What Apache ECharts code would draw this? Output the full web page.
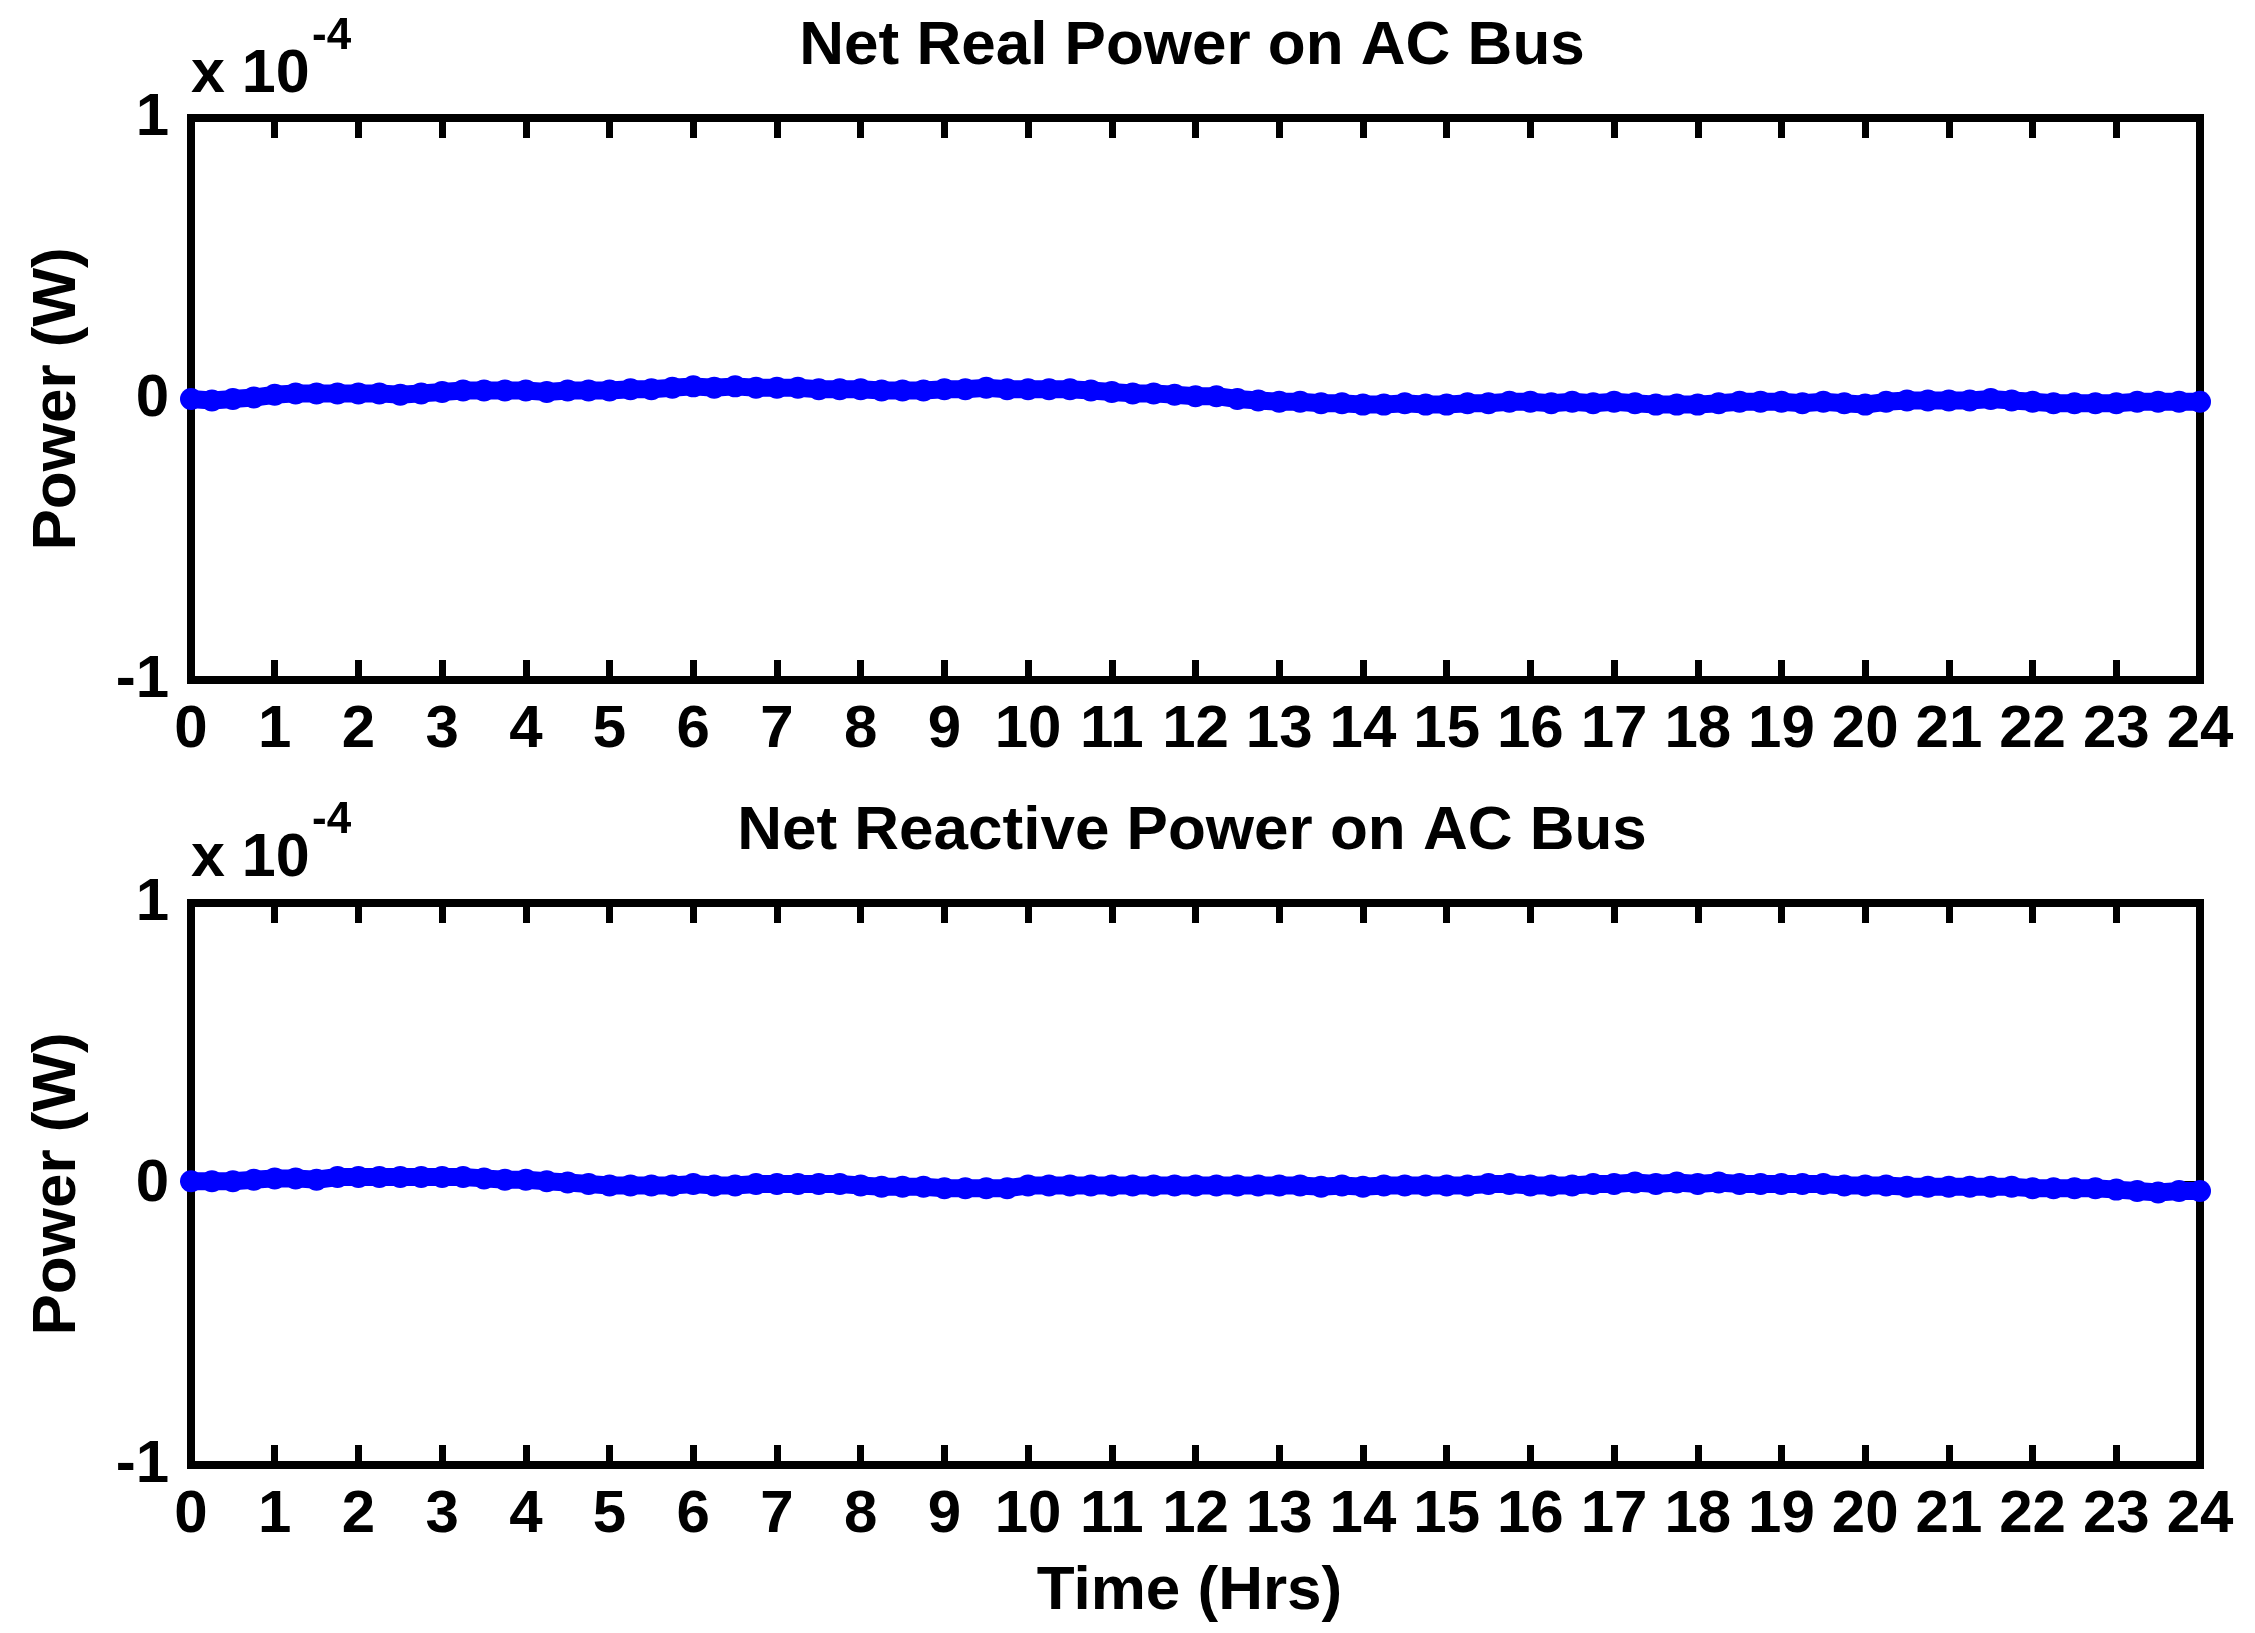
<!DOCTYPE html>
<html>
<head>
<meta charset="utf-8">
<script src="https://cdn.jsdelivr.net/npm/echarts@6/dist/echarts.min.js"></script>
<style>
html,body{margin:0;padding:0;background:#fff;}
#c{width:2255px;height:1633px;}
</style>
</head>
<body>
<div id="c"></div>
<script>
// Time in hours (0 to 24, every 0.25 h)
const hours = [0,0.25,0.5,0.75,1,1.25,1.5,1.75,2,2.25,2.5,2.75,3,3.25,3.5,3.75,4,4.25,4.5,4.75,
5,5.25,5.5,5.75,6,6.25,6.5,6.75,7,7.25,7.5,7.75,8,8.25,8.5,8.75,9,9.25,9.5,9.75,
10,10.25,10.5,10.75,11,11.25,11.5,11.75,12,12.25,12.5,12.75,13,13.25,13.5,13.75,14,14.25,14.5,14.75,
15,15.25,15.5,15.75,16,16.25,16.5,16.75,17,17.25,17.5,17.75,18,18.25,18.5,18.75,19,19.25,19.5,19.75,
20,20.25,20.5,20.75,21,21.25,21.5,21.75,22,22.25,22.5,22.75,23,23.25,23.5,23.75,24];

// Net real power (x 1e-4 W)
const realPower = [0.00,-0.005,0.0,0.005, 0.015,0.02,0.02,0.02,0.02,0.02, 0.015,0.02,
0.025,0.03,0.03,0.03,0.03,0.025,0.03,0.03,
0.03,0.035,0.035,0.04, 0.045,0.04,0.045,0.04, 0.04,0.04,0.035,0.035, 0.035,0.03,0.03,0.03,
0.035,0.035,0.04,0.035, 0.035,0.035,0.035,0.03, 0.025,0.02,0.02,0.015, 0.01,0.01,0.0,-0.005,
-0.01,-0.01,-0.015,-0.015, -0.02,-0.02,-0.015,-0.02, -0.02,-0.015,-0.015,-0.01, -0.01,-0.015,-0.01,-0.015,
-0.01,-0.015,-0.02,-0.02, -0.02,-0.015,-0.01,-0.01, -0.01,-0.015,-0.01,-0.015, -0.02,-0.01,-0.005,-0.005,
-0.005,-0.005,0.0,-0.005, -0.01,-0.015,-0.015,-0.015, -0.015,-0.01,-0.01,-0.01, -0.01];

// Net reactive power (x 1e-4)
const reactivePower = [0.01,0.01,0.01,0.015, 0.02,0.02,0.015,0.025, 0.025,0.025,0.025,0.025,
0.025,0.025,0.02,0.015, 0.015,0.01,0.005,0.0, -0.005,-0.005,-0.005,-0.005, 0.0,-0.005,-0.005,0.0,
0.0,0.0,0.0,0.0, -0.005,-0.01,-0.01,-0.01, -0.015,-0.015,-0.015,-0.015, -0.005,-0.005,-0.005,-0.005,
-0.005,-0.005,-0.005,-0.005, -0.005,-0.005,-0.005,-0.005, -0.005,-0.005,-0.01,-0.005, -0.01,-0.005,-0.005,-0.005,
-0.005,-0.005,0.0,0.0, -0.005,-0.005,-0.005,0.0, 0.0,0.005,0.0,0.005, 0.0,0.005,0.0,0.0,
0.0,0.0,0.0,-0.005, -0.005,-0.005,-0.01,-0.01, -0.01,-0.01,-0.01,-0.01, -0.015,-0.015,-0.015,-0.015,
-0.02,-0.025,-0.03,-0.025, -0.025];

const titles = ['Net Real Power on AC Bus', 'Net Reactive Power on AC Bus'];
const yLabel = 'Power (W)';
const xLabel = 'Time (Hrs)';

const FONT = "'Liberation Sans', Arial, Helvetica, sans-serif";
const chart = echarts.init(document.getElementById('c'));

const gridTops = [118, 903];
const gridH = 562;
const gridL = 191, gridW = 2009;

const tickStyle = {show: true, inside: true, length: 20, lineStyle: {color: '#000', width: 7}};

function xAxes(gi, withName) {
  return [{
    gridIndex: gi, type: 'value', position: 'bottom', min: 0, max: 24, interval: 1,
    axisLine: {show: false, onZero: false},
    axisTick: tickStyle,
    axisLabel: {show: true, margin: 20, color: '#000', fontSize: 60, fontWeight: 'bold', fontFamily: FONT},
    splitLine: {show: false},
    name: withName ? xLabel : '', nameLocation: 'middle', nameGap: 96,
    nameTextStyle: {color: '#000', fontSize: 62, fontWeight: 'bold', fontFamily: FONT, padding: [0, 12, 0, 0]}
  }, {
    gridIndex: gi, type: 'value', position: 'top', min: 0, max: 24, interval: 1,
    axisLine: {show: false, onZero: false},
    axisTick: tickStyle,
    axisLabel: {show: false}, splitLine: {show: false}
  }];
}
function yAxes(gi) {
  return [{
    gridIndex: gi, type: 'value', position: 'left', min: -1, max: 1, interval: 1,
    axisLine: {show: false, onZero: false},
    axisTick: tickStyle,
    axisLabel: {show: true, margin: 22, color: '#000', fontSize: 60, fontWeight: 'bold', fontFamily: FONT},
    splitLine: {show: false},
    name: yLabel, nameLocation: 'middle', nameGap: 102, nameRotate: 90,
    nameTextStyle: {color: '#000', fontSize: 62, fontWeight: 'bold', fontFamily: FONT}
  }, {
    gridIndex: gi, type: 'value', position: 'right', min: -1, max: 1, interval: 1,
    axisLine: {show: false, onZero: false},
    axisTick: tickStyle,
    axisLabel: {show: false}, splitLine: {show: false}
  }];
}

function makeSeries(xi, yi, vals) {
  return {
    type: 'line', xAxisIndex: xi, yAxisIndex: yi,
    data: hours.map((h, i) => [h, vals[i]]),
    symbol: 'circle', symbolSize: 22, showSymbol: true, showAllSymbol: true,
    itemStyle: {color: '#0000ff'},
    lineStyle: {color: '#0000ff', width: 18, cap: 'round', join: 'round'},
    animation: false, silent: true, clip: false, z: 3
  };
}

const option = {
  backgroundColor: '#fff',
  animation: false,
  title: [
    {text: titles[0], left: 1187, top: 11, textAlign: 'center',
     textStyle: {color: '#000', fontSize: 62, fontWeight: 'bold', fontFamily: FONT}},
    {text: titles[1], left: 1187, top: 796, textAlign: 'center',
     textStyle: {color: '#000', fontSize: 62, fontWeight: 'bold', fontFamily: FONT}}
  ],
  grid: [
    {left: gridL, top: gridTops[0], width: gridW, height: gridH, show: true, borderColor: '#000', borderWidth: 8, backgroundColor: 'transparent', containLabel: false},
    {left: gridL, top: gridTops[1], width: gridW, height: gridH, show: true, borderColor: '#000', borderWidth: 8, backgroundColor: 'transparent', containLabel: false}
  ],
  xAxis: [...xAxes(0, false), ...xAxes(1, true)],
  yAxis: [...yAxes(0), ...yAxes(1)],
  series: [makeSeries(0, 0, realPower), makeSeries(2, 2, reactivePower)],
  graphic: [
    {type: 'text', left: 191, top: 45, style: {text: 'x 10', fill: '#000', font: 'bold 61px ' + FONT}},
    {type: 'text', left: 312, top: 15, style: {text: '-4', fill: '#000', font: 'bold 44px ' + FONT}},
    {type: 'text', left: 191, top: 829, style: {text: 'x 10', fill: '#000', font: 'bold 61px ' + FONT}},
    {type: 'text', left: 312, top: 799, style: {text: '-4', fill: '#000', font: 'bold 44px ' + FONT}}
  ]
};
chart.setOption(option);
</script>
</body>
</html>
